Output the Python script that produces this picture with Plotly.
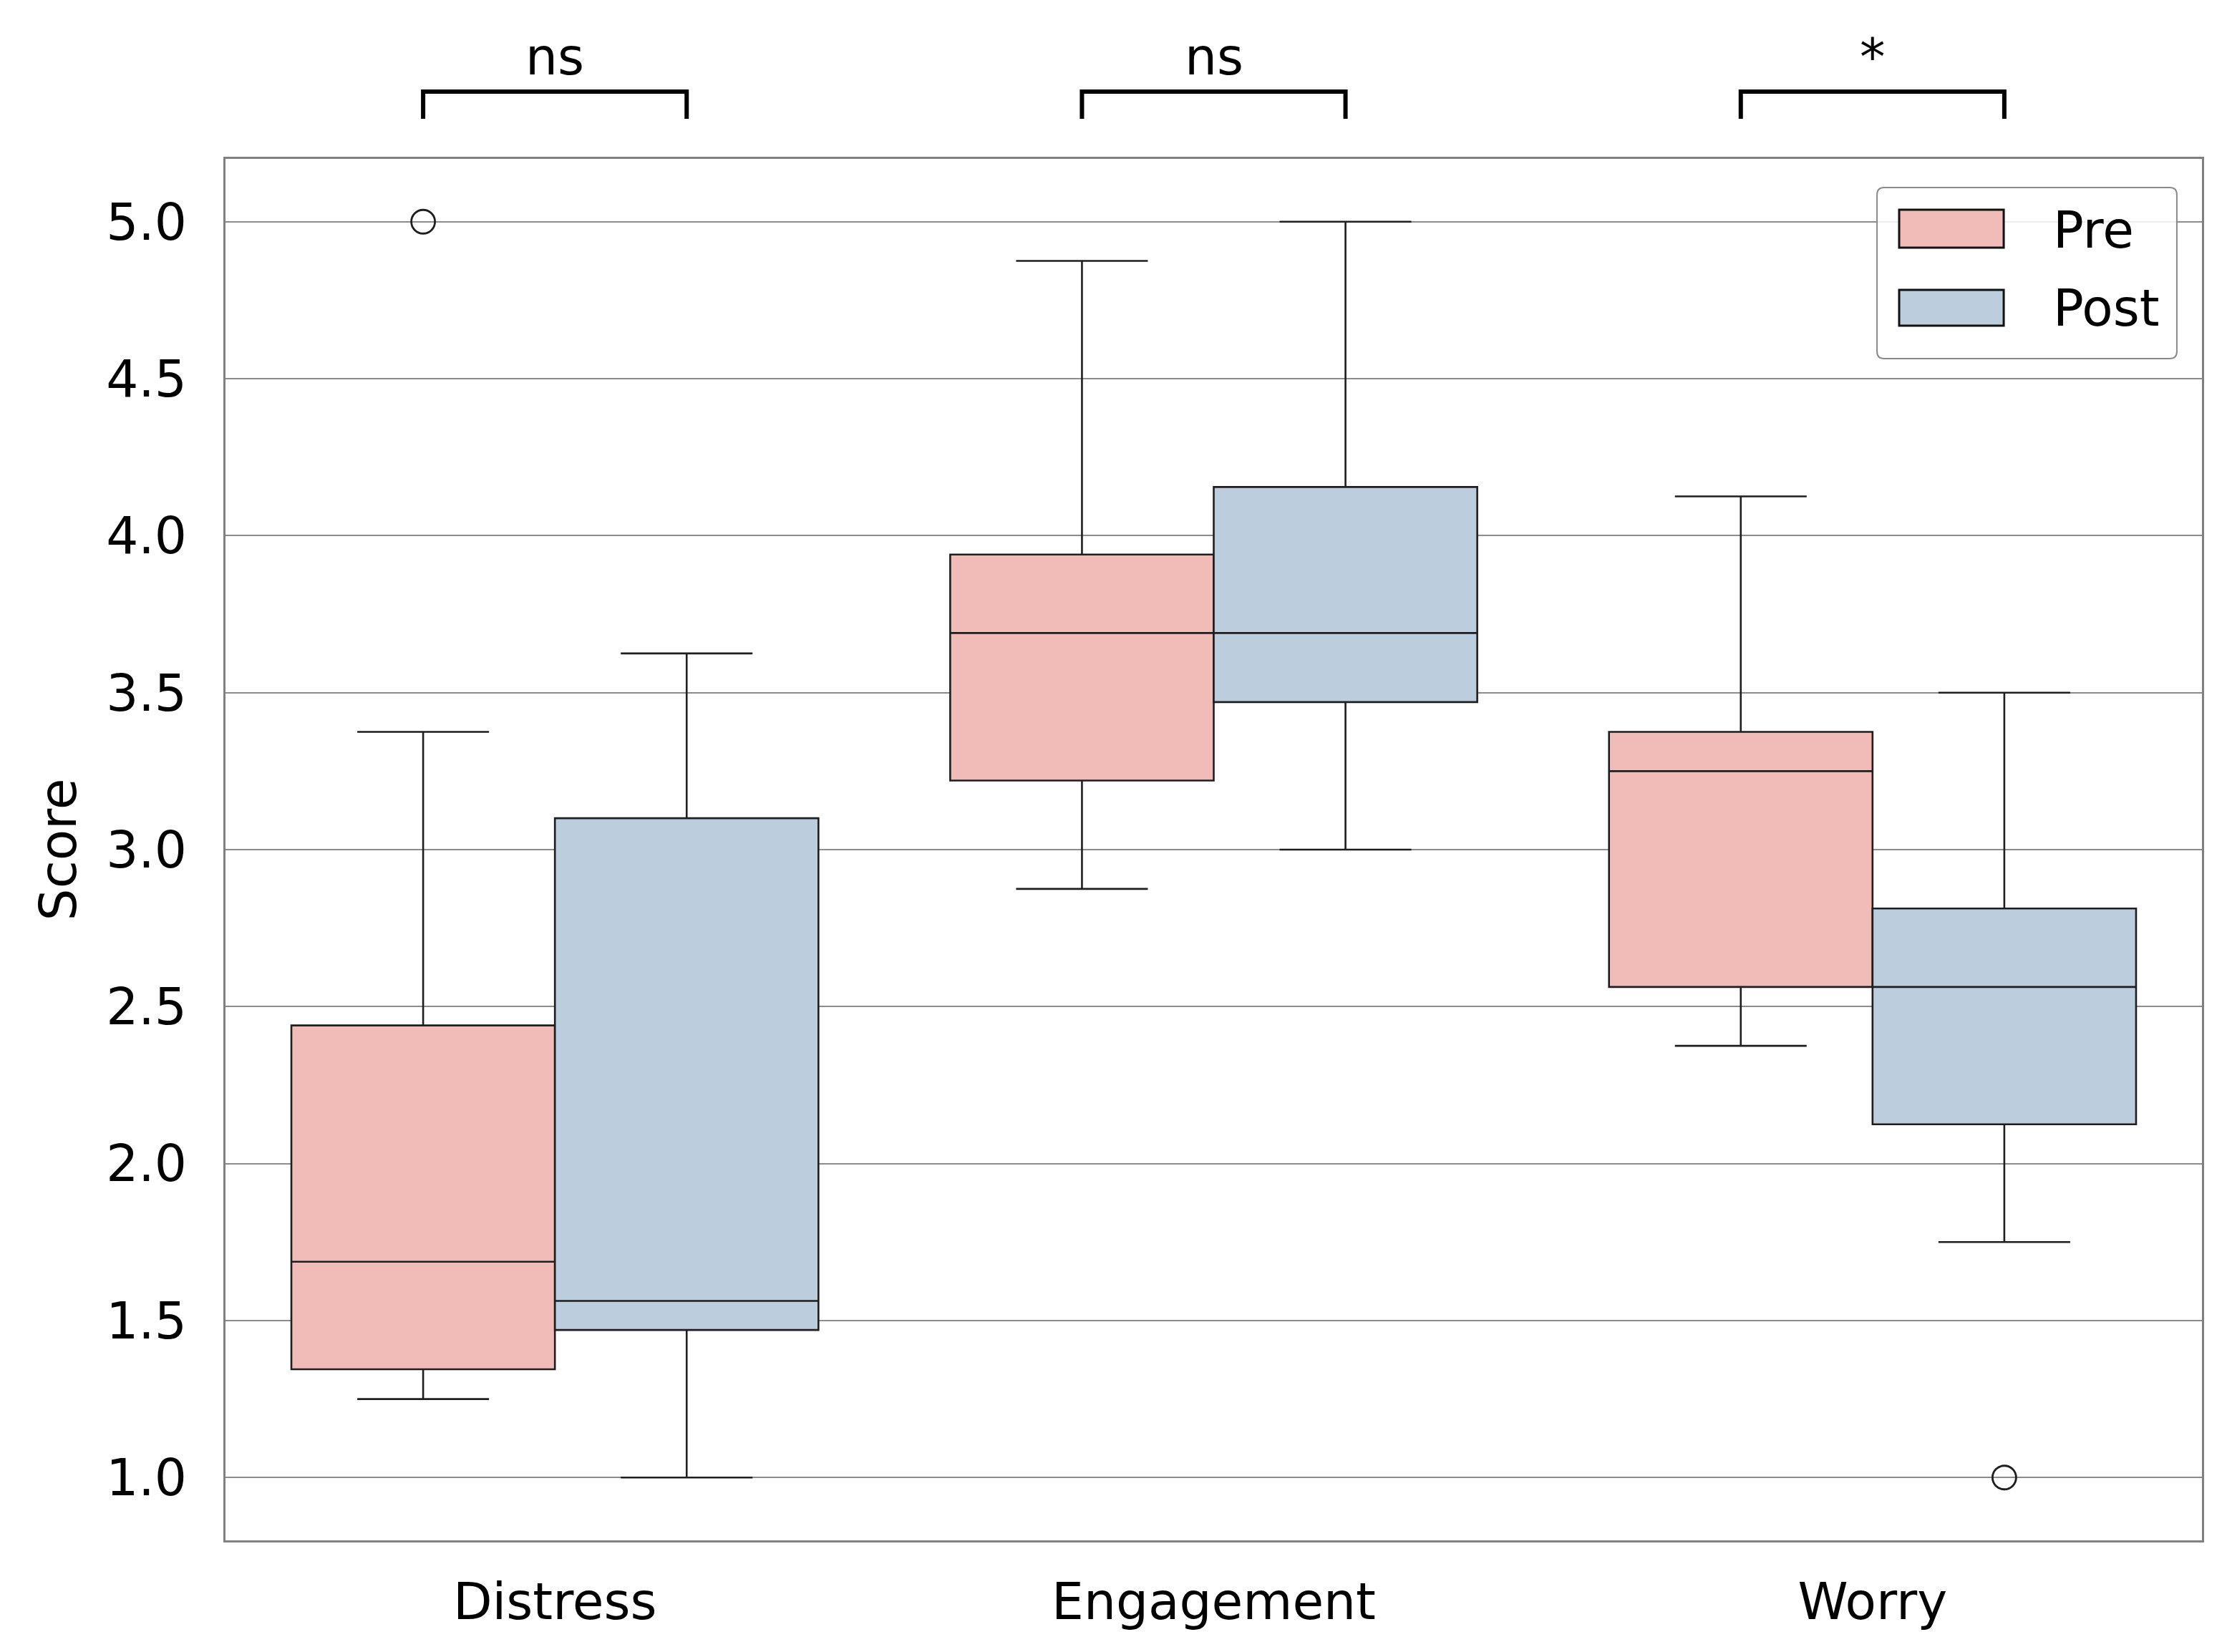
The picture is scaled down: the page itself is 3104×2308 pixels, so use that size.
import plotly.graph_objects as go

# ---------------- data ----------------
categories = ["Distress", "Engagement", "Worry"]
group_names = ["Pre", "Post"]

pre_lower = [1.25, 2.875, 2.375]
pre_q1 = [1.345, 3.22, 2.5625]
pre_median = [1.6875, 3.69, 3.25]
pre_q3 = [2.44, 3.94, 3.375]
pre_upper = [3.375, 4.875, 4.125]
pre_outliers = [[5.0], [], []]

post_lower = [1.0, 3.0, 1.75]
post_q1 = [1.47, 3.47, 2.125]
post_median = [1.5625, 3.69, 2.5625]
post_q3 = [3.1, 4.155, 2.8125]
post_upper = [3.625, 5.0, 3.5]
post_outliers = [[], [], [1.0]]

significance = ["ns", "ns", "*"]
y_ticks = [1.0, 1.5, 2.0, 2.5, 3.0, 3.5, 4.0, 4.5, 5.0]

# ---------------- style ----------------
FONT = "DejaVu Sans"
FS = 71
PRE_COLOR = "#F1BCB8"
POST_COLOR = "#BCCDDE"
EDGE = "#1e1e1e"
W, H = 3104, 2308
ML, MR, MT, MB = 307, 36, 214, 164

BOXGAP = 0.2
n_groups = len(group_names)
box_w = (1 - BOXGAP) / n_groups
offsets = [(-(1 - BOXGAP) / 2 + box_w * (k + 0.5)) for k in range(n_groups)]

positions = list(range(len(categories)))

fig = go.Figure()

series = [
    ("Pre", PRE_COLOR, pre_lower, pre_q1, pre_median, pre_q3, pre_upper, pre_outliers),
    ("Post", POST_COLOR, post_lower, post_q1, post_median, post_q3, post_upper, post_outliers),
]

for k, (name, color, lo, q1, med, q3, up, outl) in enumerate(series):
    fig.add_trace(go.Box(
        name=name, x=positions, lowerfence=lo, q1=q1, median=med, q3=q3, upperfence=up,
        fillcolor=color, line=dict(color=EDGE, width=2.6), whiskerwidth=0.5,
        boxpoints=False, showlegend=False, offsetgroup=name,
    ))

for k, (name, color, lo, q1, med, q3, up, outl) in enumerate(series):
    ox, oy = [], []
    for i, vals in enumerate(outl):
        for v in vals:
            ox.append(positions[i] + offsets[k])
            oy.append(v)
    if ox:
        fig.add_trace(go.Scatter(
            x=ox, y=oy, mode="markers", showlegend=False,
            marker=dict(symbol="circle-open", size=33, color=EDGE, line=dict(width=2.8, color=EDGE)),
        ))

# significance brackets
shapes = []
annotations = []
y_bar = 1.0487
y_leg = 1.0290
for i, label in enumerate(significance):
    xa = positions[i] + offsets[0]
    xb = positions[i] + offsets[1]
    shapes.append(dict(
        type="path", xref="x", yref="paper",
        path=f"M {xa},{y_leg} L {xa},{y_bar} L {xb},{y_bar} L {xb},{y_leg}",
        line=dict(color="black", width=6), layer="above",
    ))
    annotations.append(dict(
        x=positions[i], y=1.0736, xref="x", yref="paper", text=label, showarrow=False,
        font=dict(family=FONT, size=FS, color="black"), xanchor="center", yanchor="middle",
    ))

# custom legend (paper coords)
lx0, lx1, ly0, ly1 = 0.8356, 0.9873, 0.8554, 0.9793
rx, ry = 10 / (W - ML - MR), 10 / (H - MT - MB)
legend_path = (
    f"M {lx0 + rx},{ly1} L {lx1 - rx},{ly1} Q {lx1},{ly1} {lx1},{ly1 - ry} "
    f"L {lx1},{ly0 + ry} Q {lx1},{ly0} {lx1 - rx},{ly0} "
    f"L {lx0 + rx},{ly0} Q {lx0},{ly0} {lx0},{ly0 + ry} "
    f"L {lx0},{ly1 - ry} Q {lx0},{ly1} {lx0 + rx},{ly1} Z"
)
shapes.append(dict(type="path", xref="paper", yref="paper", path=legend_path,
                   fillcolor="rgba(255,255,255,0.85)", line=dict(color="#8a8a8a", width=2), layer="above"))
swatch_rows = [(0.9358, 0.9632, 0.9487), (0.8793, 0.9052, 0.8922)]
for (name, color, *_), (sy0, sy1, ty) in zip(series, swatch_rows):
    shapes.append(dict(type="rect", xref="paper", yref="paper", x0=0.8468, x1=0.8997, y0=sy0, y1=sy1,
                       fillcolor=color, line=dict(color="#111111", width=3), layer="above"))
    annotations.append(dict(x=0.9239, y=ty, xref="paper", yref="paper", text=name, showarrow=False,
                            xanchor="left", yanchor="middle", font=dict(family=FONT, size=FS, color="black")))

fig.update_layout(
    width=W, height=H,
    margin=dict(l=ML, r=MR, t=MT, b=MB),
    paper_bgcolor="white", plot_bgcolor="white",
    boxmode="group", boxgap=BOXGAP, boxgroupgap=0,
    font=dict(family=FONT, size=FS, color="black"),
    shapes=shapes, annotations=annotations,
)
fig.update_xaxes(
    range=[-0.5, 2.5], tickvals=positions, ticktext=categories, showgrid=False, zeroline=False,
    showline=True, mirror=True, linecolor="#808080", linewidth=2.5,
    ticks="outside", ticklen=22, tickcolor="rgba(0,0,0,0)",
    tickfont=dict(family=FONT, size=FS, color="black"),
)
fig.update_yaxes(
    range=[0.8, 5.2], tickvals=y_ticks, ticktext=[f"{v:.1f}" for v in y_ticks],
    showgrid=True, gridcolor="#8c8c8c", gridwidth=1.8, zeroline=False,
    showline=True, mirror=True, linecolor="#808080", linewidth=2.5,
    ticks="outside", ticklen=37, tickcolor="rgba(0,0,0,0)",
    tickfont=dict(family=FONT, size=FS, color="black"),
    title=dict(text="Score", font=dict(family=FONT, size=FS, color="black"), standoff=19),
)

fig.write_html("out.html")
